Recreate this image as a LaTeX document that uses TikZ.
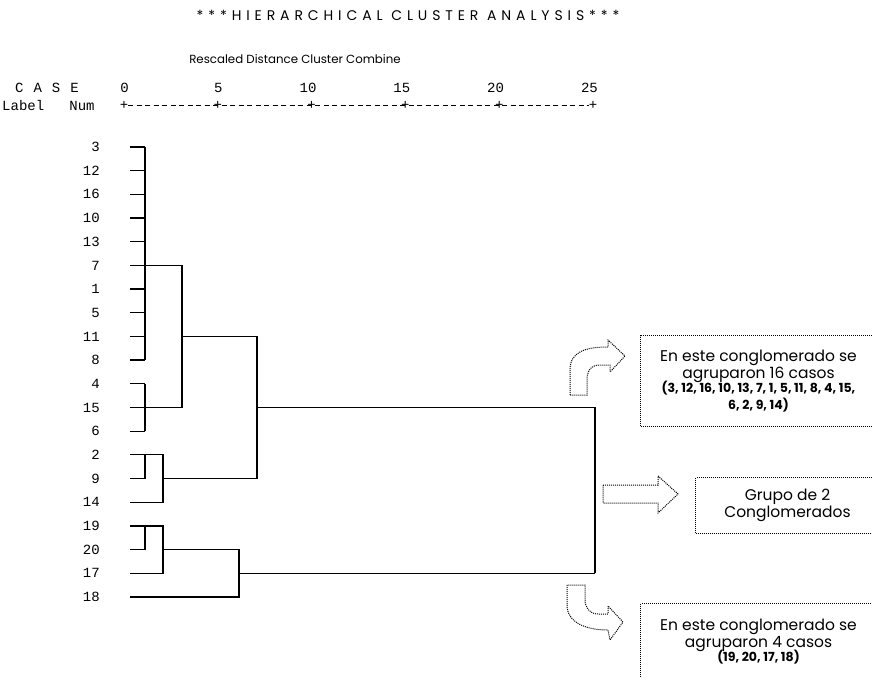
\documentclass[tikz,border=0pt]{standalone}
\usepackage{fontspec}
\newfontfamily\gothic{Poppins}
\newfontfamily\gothicwide{Poppins}[LetterSpace=35]
\newfontfamily\mono{Liberation Mono}
\usetikzlibrary{positioning,calc}
\newcommand\listfont{\gothic\bfseries\fontsize{12.5}{15}\selectfont}

\begin{document}
\begin{tikzpicture}[
    x=1pt, y=-1pt,
    dline/.style={line width=1.3pt},
    caselab/.style={anchor=east, inner sep=0pt, font=\mono\fontsize{14}{14}\selectfont},
    axislab/.style={inner sep=0pt, font=\mono\fontsize{14}{14}\selectfont},
    blockarrow/.style={densely dotted, line width=1pt},
    notebox/.style={draw, densely dotted, line width=1pt, anchor=north west, align=center, inner sep=2pt,
        font=\gothic\fontsize{15.5}{17}\selectfont}
]
    \useasboundingbox (0,0) rectangle (872,677);
    \clip (0,0) rectangle (872,677);

    % Headings
    \node[font=\gothicwide\fontsize{14}{14}\selectfont] (title) at (408,15) {***HIERARCHICAL CLUSTER ANALYSIS***};
    \node[font=\gothic\fontsize{11.8}{12}\selectfont] (subtitle) at (295,59) {Rescaled Distance Cluster Combine};

    % Axis
    \node[axislab, anchor=west] (case) at (15,88) {C\hspace{10pt}A\hspace{10pt}S\hspace{10pt}E};
    \node[axislab, anchor=west] (labnum) at (2,105) {Label\ \ \ Num};
    \foreach \v [count=\k from 0] in {0,5,10,15,20,25} {
        \coordinate (t\v) at (124+93.8*\k,105);
        \node[axislab, anchor=east] (a\v) at ([xshift=5pt]t\v |- case) {\v};
    }
    \draw[line width=0.8pt, dash pattern=on 5pt off 3.5pt] ([xshift=4pt]t0) -- ([xshift=-4pt]t25);
    \foreach \v in {0,5,10,15,20,25}
        \node[axislab] at (t\v) {+};

    % Cases
    \foreach \lab [count=\i from 0] in {3,12,16,10,13,7,1,5,11,8,4,15,6,2,9,14,19,20,17,18} {
        \node[caselab] (n\lab) at (100,147+23.68*\i) {\lab};
        \coordinate (c\lab) at (130,147+23.68*\i);
    }

    % Join levels
    \coordinate (xa) at (145,0);
    \coordinate (xb) at (163,0);
    \coordinate (xc) at (182,0);
    \coordinate (xd) at (239,0);
    \coordinate (xe) at (257,0);
    \coordinate (xf) at (595,0);

    % First cluster
    \foreach \lab in {3,12,16,10,13,7,1,5,11,8,4,15,6,2,9,19,20}
        \draw[dline] (c\lab) -- (c\lab -| xa);
    \draw[dline] (c3 -| xa) -- (c8 -| xa);
    \draw[dline] (c4 -| xa) -- (c6 -| xa);
    \draw[dline] (c7 -| xa) -- (c7 -| xc) |- (c15 -| xa);
    \draw[dline] (c11 -| xc) -- (c11 -| xe);
    \draw[dline] (c2 -| xa) -- (c9 -| xa);
    \draw[dline] (c2 -| xa) -- (c2 -| xb) |- (c14);
    \draw[dline] (c9 -| xb) -- (c9 -| xe);
    \draw[dline] (c11 -| xe) -- (c9 -| xe);
    \draw[dline] (c15 -| xe) -- (c15 -| xf);

    % Second cluster
    \draw[dline] (c19 -| xa) -- (c20 -| xa);
    \draw[dline] (c19 -| xa) -- (c19 -| xb) |- (c17);
    \draw[dline] (c20 -| xb) -- (c20 -| xd) |- (c18);
    \draw[dline] (c17 -| xd) -- (c17 -| xf);
    \draw[dline] (c15 -| xf) -- (c17 -| xf);

    % Arrows
    \draw[blockarrow] (570,395) -- (570,370) .. controls (570,352) and (585,347) .. (608,347)
        -- (608,340) -- (625,356) -- (610,372) -- (610,365) -- (600,365)
        .. controls (590,365) and (587,372) .. (587,380) -- (587,395) -- cycle;
    \draw[blockarrow] (603,485) -- (658,485) -- (658,476) -- (678,494) -- (658,513)
        -- (658,503) -- (603,503) -- cycle;
    \draw[blockarrow] (567,585) -- (567,605) .. controls (567,622) and (585,630) .. (608,630)
        -- (610,640) -- (623,622) -- (608,606) -- (608,614) -- (598,614)
        .. controls (590,614) and (585,608) .. (585,600) -- (585,585) -- cycle;

    % Notes
    \node[notebox, minimum width=236pt, minimum height=91pt] (note16) at (640,335)
        {En este conglomerado se\\ agruparon 16 casos\\[-3pt]
         \listfont (3, 12, 16, 10, 13, 7, 1, 5, 11, 8, 4, 15,\\ \listfont 6, 2, 9, 14)};
    \node[notebox, minimum width=184pt, minimum height=56pt] (note2) at (695,477)
        {Grupo de 2\\ Conglomerados};
    \node[notebox, minimum width=236pt, minimum height=76pt] (note4) at (640,603)
        {En este conglomerado se\\ agruparon 4 casos\\[-3pt]
         \listfont (19, 20, 17, 18)};
\end{tikzpicture}
\end{document}
